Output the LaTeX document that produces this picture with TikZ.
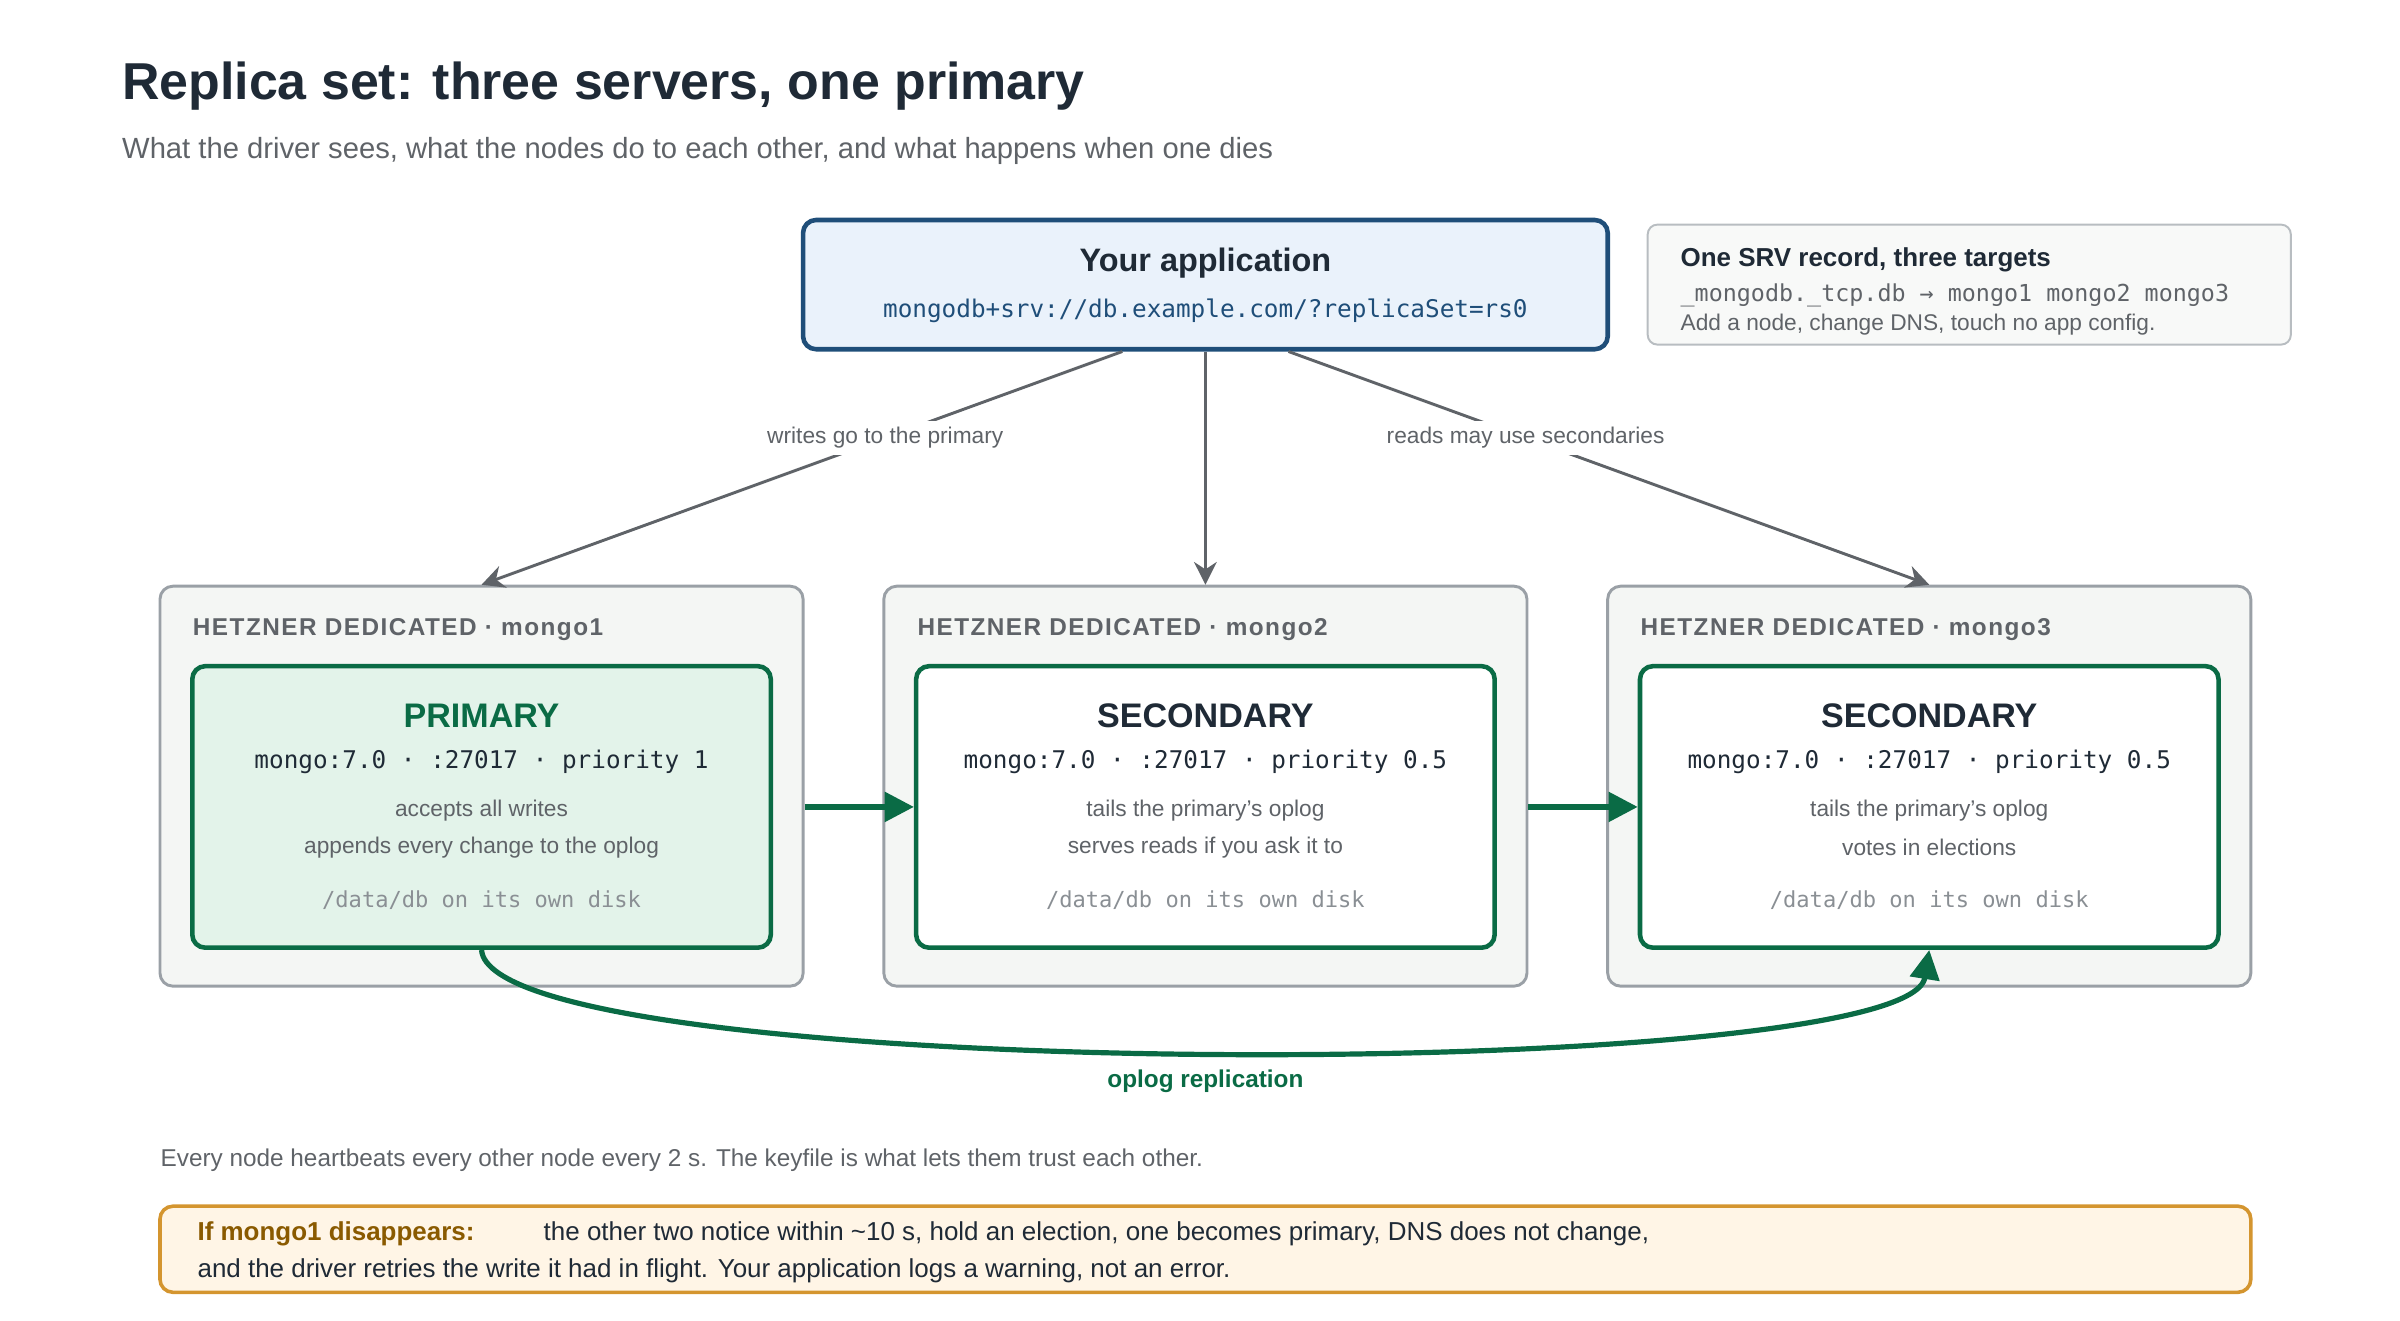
\documentclass[tikz,border=0pt]{standalone}
\usepackage{fontspec}
\setmainfont{Liberation Sans}
\setmonofont{DejaVu Sans Mono}
\usetikzlibrary{arrows.meta, positioning}
\definecolor{inkdark}{HTML}{1F2A36}
\definecolor{inkgray}{HTML}{5F6368}
\definecolor{monogray}{HTML}{8A8F94}
\definecolor{appblue}{HTML}{1F4E79}
\definecolor{appfill}{HTML}{EAF2FB}
\definecolor{primgreen}{HTML}{0A6B45}
\definecolor{primfill}{HTML}{E3F3EA}
\definecolor{hostfill}{HTML}{F4F6F4}
\definecolor{hostdraw}{HTML}{9AA0A6}
\definecolor{warndraw}{HTML}{D4952F}
\definecolor{warnfill}{HTML}{FFF5E6}
\definecolor{warnbrown}{HTML}{8A5A00}
\definecolor{srvfill}{HTML}{F8F9F8}
\begin{document}
\begin{tikzpicture}[x=1cm/60, y=-1cm/60,
        host/.style={rectangle, draw=hostdraw, fill=hostfill, line width=0.9pt, rounded corners=4pt, minimum width=6.967cm, minimum height=4.333cm},
        role/.style={rectangle, draw=primgreen, fill=white, line width=1.4pt, rounded corners=4pt, minimum width=6.267cm, minimum height=3.05cm},
        hosttag/.style={anchor=west, inner sep=0pt, text=inkgray, font=\fontsize{7.5}{9}\selectfont\bfseries\addfontfeature{LetterSpace=6}},
        roletitle/.style={text=inkdark, font=\fontsize{10.5}{12}\selectfont\bfseries},
        roleport/.style={text=inkdark, font=\ttfamily\fontsize{7.5}{9}\selectfont},
        roletext/.style={text=inkgray, font=\fontsize{7}{8.5}\selectfont, align=center},
        roledisk/.style={text=monogray, font=\ttfamily\fontsize{6.8}{8}\selectfont},
        link/.style={-{Stealth[length=7pt,width=7pt]}, draw=inkgray, line width=0.9pt},
        linklabel/.style={fill=white, text=inkgray, font=\fontsize{7}{8.5}\selectfont, inner sep=2pt},
        repl/.style={-{Triangle[length=9pt,width=9pt]}, draw=primgreen, line width=1.6pt}
    ]
        \useasboundingbox (0,0) rectangle (1560,858);
        % heading
        \node[anchor=west, inner sep=0pt, text=inkdark, font=\fontsize{16}{19}\selectfont\bfseries] (title) at (79,56) {Replica set: three servers, one primary};
        \node[anchor=west, inner sep=0pt, text=inkgray, font=\fontsize{9}{11}\selectfont] (subtitle) at (79,98) {What the driver sees, what the nodes do to each other, and what happens when one dies};

        % application and SRV note
        \node[rectangle, draw=appblue, fill=appfill, line width=1.4pt, rounded corners=4pt, minimum width=8.717cm, minimum height=1.4cm] (app) at (783.5,185) {};
        \node[text=inkdark, font=\fontsize{10}{12}\selectfont\bfseries] (apptitle) at (783.5,171) {Your application};
        \node[text=appblue, font=\ttfamily\fontsize{7.5}{9}\selectfont] (appuri) at (783.5,202) {mongodb+srv://db.example.com/?replicaSet=rs0};

        \node[rectangle, draw=hostdraw!70, fill=srvfill, line width=0.6pt, rounded corners=3pt, minimum width=6.967cm, minimum height=1.3cm] (srv) at (1280,185) {};
        \node[anchor=west, inner sep=0pt, text=inkdark, font=\fontsize{8}{10}\selectfont\bfseries] (srvtitle) at (1092,169) {One SRV record, three targets};
        \node[anchor=west, inner sep=0pt, text=inkgray, font=\ttfamily\fontsize{7.2}{9}\selectfont] (srvrec) at (1092,192) {\_mongodb.\_tcp.db → mongo1 mongo2 mongo3};
        \node[anchor=west, inner sep=0pt, text=inkgray, font=\fontsize{7}{8.5}\selectfont] (srvnote) at (1092,211) {Add a node, change DNS, touch no app config.};

        % hosts
        \node[host] (host1) at (313,511) {};
        \node[host] (host2) at (783.5,511) {};
        \node[host] (host3) at (1254,511) {};
        \node[hosttag] (tag1) at (125,409) {HETZNER DEDICATED · mongo1};
        \node[hosttag] (tag2) at (596,409) {HETZNER DEDICATED · mongo2};
        \node[hosttag] (tag3) at (1066,409) {HETZNER DEDICATED · mongo3};

        \node[role, fill=primfill] (mongo1) at (313,524.5) {};
        \node[role] (mongo2) at (783.5,524.5) {};
        \node[role] (mongo3) at (1254,524.5) {};

        \node[roletitle, text=primgreen] at (313,465) {PRIMARY};
        \node[roleport] at (313,495) {mongo:7.0 · :27017 · priority 1};
        \node[roletext] at (313,527) {accepts all writes};
        \node[roletext] at (313,551) {appends every change to the oplog};
        \node[roledisk] at (313,585) {/data/db on its own disk};

        \node[roletitle] at (783.5,465) {SECONDARY};
        \node[roleport] at (783.5,495) {mongo:7.0 · :27017 · priority 0.5};
        \node[roletext] at (783.5,527) {tails the primary's oplog};
        \node[roletext] at (783.5,551) {serves reads if you ask it to};
        \node[roledisk] at (783.5,585) {/data/db on its own disk};

        \node[roletitle] at (1254,465) {SECONDARY};
        \node[roleport] at (1254,495) {mongo:7.0 · :27017 · priority 0.5};
        \node[roletext] at (1254,527) {tails the primary's oplog};
        \node[roletext] at (1254,551) {votes in elections};
        \node[roledisk] at (1254,585) {/data/db on its own disk};

        % driver connections
        \draw[link] ([xshift=-0.9cm]app.south) -- node[linklabel, pos=0.37] {writes go to the primary} (host1.north);
        \draw[link] (app.south) -- (host2.north);
        \draw[link] ([xshift=0.9cm]app.south) -- node[linklabel, pos=0.37] {reads may use secondaries} (host3.north);

        % replication
        \draw[repl] (host1.east |- mongo2.west) -- (mongo2.west);
        \draw[repl] (host2.east |- mongo3.west) -- (mongo3.west);
        \draw[repl] (mongo1.south) .. controls (320,705) and (1240,705) .. (mongo3.south);
        \node[text=primgreen, font=\fontsize{7.5}{9}\selectfont\bfseries] (repllabel) at (783.5,703) {oplog replication};

        % footer
        \node[anchor=west, inner sep=0pt, text=inkgray, font=\fontsize{7.5}{9}\selectfont] (heartbeat) at (104,754) {Every node heartbeats every other node every 2 s. The keyfile is what lets them trust each other.};
        \node[rectangle, draw=warndraw, fill=warnfill, line width=1.1pt, rounded corners=4pt, minimum width=22.65cm, minimum height=0.933cm] (warn) at (783.5,812) {};
        \node[anchor=west, inner sep=0pt, text=warnbrown, font=\fontsize{8}{10}\selectfont\bfseries] (warnhead) at (128,802) {If mongo1 disappears:};
        \node[anchor=west, inner sep=0pt, text=inkdark, font=\fontsize{8}{10}\selectfont] (warnline1) at (353,802) {the other two notice within \textasciitilde10 s, hold an election, one becomes primary, DNS does not change,};
        \node[anchor=west, inner sep=0pt, text=inkdark, font=\fontsize{8}{10}\selectfont] (warnline2) at (128,826) {and the driver retries the write it had in flight. Your application logs a warning, not an error.};
    \end{tikzpicture}
\end{document}
